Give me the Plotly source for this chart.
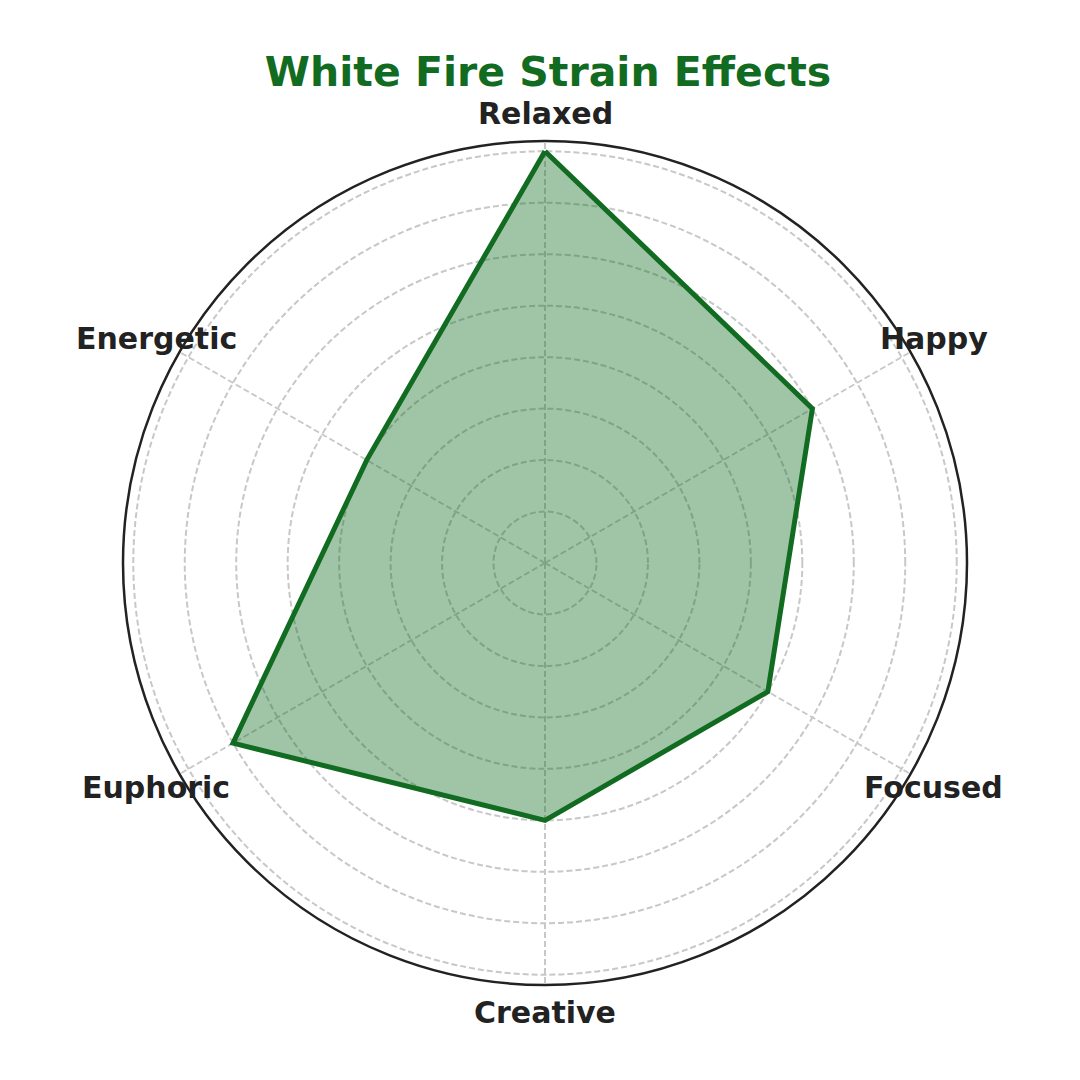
import numpy as np
import plotly.graph_objects as go

# effect scores
categories = ["Relaxed", "Happy", "Focused", "Creative", "Euphoric", "Energetic"]
values = [8, 6, 5, 5, 7, 4]

green = "#116b21"

theta = categories + categories[:1]
r = values + values[:1]

# polar area (paper coords) and label ring radius
dom_x = [115 / 1080, 959 / 1080]
dom_y = [103 / 1080, 947 / 1080]
cx = (dom_x[0] + dom_x[1]) / 2
cy = (dom_y[0] + dom_y[1]) / 2
label_r = 449 / 1080

fig = go.Figure()
fig.add_trace(go.Scatterpolar(
    r=r, theta=theta,
    mode="lines",
    fill="toself",
    fillcolor="rgba(17,107,33,0.4)",
    line=dict(color=green, width=5),
    hoverinfo="r+theta",
))

# category labels centred on a ring just outside the plot, like matplotlib
for i, name in enumerate(categories):
    ang = np.radians(i * 360 / len(categories))
    fig.add_annotation(
        text="<b>" + name + "</b>",
        xref="paper", yref="paper",
        x=cx + label_r * np.sin(ang), y=cy + label_r * np.cos(ang),
        xanchor="center", yanchor="middle",
        showarrow=False,
        font=dict(size=30, color="#222222", family="DejaVu Sans"),
    )

fig.update_layout(
    width=1080, height=1080,
    paper_bgcolor="white",
    margin=dict(l=0, r=0, t=0, b=0),
    showlegend=False,
    font=dict(family="DejaVu Sans"),
    title=dict(
        text="<b>White Fire Strain Effects</b>",
        x=0.5, xanchor="center",
        y=0.941, yanchor="middle",
        font=dict(size=41, color=green, family="DejaVu Sans"),
    ),
    polar=dict(
        domain=dict(x=dom_x, y=dom_y),
        bgcolor="white",
        radialaxis=dict(
            range=[0, 8.2],
            tickvals=[1, 2, 3, 4, 5, 6, 7, 8],
            showticklabels=False,
            ticks="",
            showline=False,
            gridcolor="#c8c8c8",
            gridwidth=1.5,
            griddash="6px,3px",
        ),
        angularaxis=dict(
            direction="clockwise",
            rotation=90,
            showline=True,
            linecolor="#222222",
            linewidth=2.5,
            ticks="",
            showticklabels=False,
            gridcolor="#c8c8c8",
            gridwidth=1.5,
            griddash="6px,3px",
        ),
    ),
)

fig.write_html("out.html")
